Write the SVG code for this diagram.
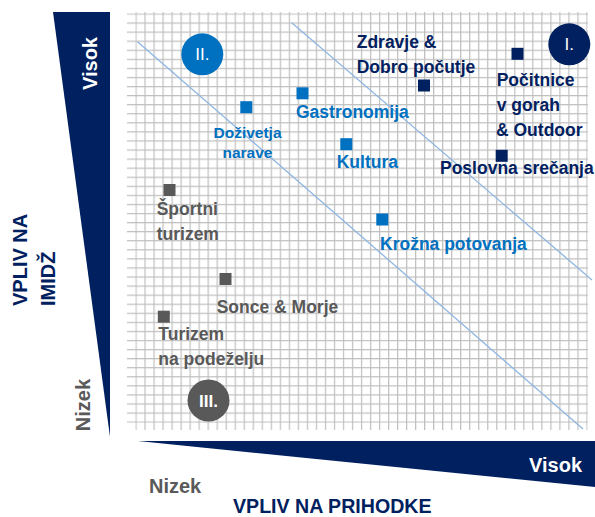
<svg xmlns="http://www.w3.org/2000/svg" width="595" height="517" viewBox="0 0 595 517">
<defs>
<style>
text{font-family:"Liberation Sans",Arial,sans-serif;font-weight:bold}
.ax{font-size:20px}
.lb{font-size:17.5px}
.nv{fill:#002060}
.bl{fill:#0070c0}
.gr{fill:#595959}
.wt{fill:#ffffff}
.ct{font-size:17px;font-weight:normal;text-anchor:middle}
.sep{stroke:#8fb6e3;stroke-width:1.3;fill:none}
</style>
<pattern id="vg" patternUnits="userSpaceOnUse" x="135.4" y="12" width="9.02" height="600">
<rect x="0" y="0" width="1.2" height="600" fill="#bfbfbf"/>
</pattern>
<pattern id="hg" patternUnits="userSpaceOnUse" x="127" y="13.4" width="600" height="9.07">
<rect x="0" y="0" width="600" height="1.2" fill="#bfbfbf"/>
</pattern>
</defs>
<rect width="595" height="517" fill="#ffffff"/>
<g id="grid">
<rect x="135.4" y="12" width="452.2" height="418" fill="url(#vg)"/>
<rect x="127" y="13.4" width="461" height="409.4" fill="url(#hg)"/>
</g>
<g id="axes">
<polygon points="53,12 110,12 110,437" fill="#002060"/>
<polygon points="138,441 595,441 595,487" fill="#002060"/>
<text class="ax wt" text-anchor="middle" transform="translate(97,63.5) rotate(-90)">Visok</text>
<text class="ax gr" text-anchor="middle" transform="translate(90,405) rotate(-90)">Nizek</text>
<text class="ax nv" transform="translate(27,306) rotate(-90)">VPLIV NA</text>
<text class="ax nv" transform="translate(55,306) rotate(-90)">IMIDŽ</text>
<text class="ax wt" x="529" y="471.7">Visok</text>
<text class="ax gr" x="149" y="493">Nizek</text>
<text class="nv" x="233" y="512.5" style="font-size:19.6px">VPLIV NA PRIHODKE</text>
</g>
<g id="connectors">
<line class="sep" x1="137.5" y1="41.7" x2="583" y2="429"/>
<line class="sep" x1="291.7" y1="22.7" x2="592" y2="280"/>
</g>
<g id="q1">
<circle cx="569.3" cy="44.3" r="21" fill="#002060"/>
<text class="ct wt" x="569.3" y="50.3">I.</text>
</g>
<g id="q2">
<circle cx="202.3" cy="54.3" r="21" fill="#0070c0"/>
<text class="ct wt" x="202.3" y="60.3">II.</text>
</g>
<g id="q3">
<circle cx="208.5" cy="400.5" r="21" fill="#595959"/>
<text class="ct wt" x="208.5" y="406.5" style="font-weight:bold">III.</text>
</g>
<g id="zdravje">
<rect x="418" y="79.5" width="12" height="12" fill="#002060"/>
<text class="lb nv" x="356.7" y="48.3">Zdravje &amp;</text>
<text class="lb nv" x="356.7" y="72.7">Dobro počutje</text>
</g>
<g id="pocitnice">
<rect x="511.5" y="47.8" width="12" height="12" fill="#002060"/>
<text class="lb nv" x="496.7" y="85.7">Počitnice</text>
<text class="lb nv" x="496.7" y="110.7">v gorah</text>
<text class="lb nv" x="496" y="136">&amp; Outdoor</text>
</g>
<g id="poslovna">
<rect x="495.7" y="149.8" width="12" height="12" fill="#002060"/>
<text class="lb nv" x="440" y="174">Poslovna srečanja</text>
</g>
<g id="gastronomija">
<rect x="296.5" y="87.3" width="12" height="12" fill="#0070c0"/>
<text class="lb bl" x="296" y="118">Gastronomija</text>
</g>
<g id="dozivetja">
<rect x="240.3" y="101.2" width="12" height="12" fill="#0070c0"/>
<text class="bl" x="247.5" y="137.7" text-anchor="middle" style="font-size:15.5px">Doživetja</text>
<text class="bl" x="247.5" y="158.3" text-anchor="middle" style="font-size:15.5px">narave</text>
</g>
<g id="kultura">
<rect x="340.3" y="138.2" width="12" height="12" fill="#0070c0"/>
<text class="lb bl" x="336.7" y="168.3">Kultura</text>
</g>
<g id="krozna">
<rect x="376.3" y="213.5" width="12" height="12" fill="#0070c0"/>
<text class="lb bl" x="380" y="250">Krožna potovanja</text>
</g>
<g id="sportni">
<rect x="163.5" y="184" width="12" height="12" fill="#595959"/>
<text class="lb gr" x="156.7" y="215">Športni</text>
<text class="lb gr" x="156.7" y="240">turizem</text>
</g>
<g id="sonce">
<rect x="219.5" y="273" width="12" height="12" fill="#595959"/>
<text class="lb gr" x="216.7" y="313.3">Sonce &amp; Morje</text>
</g>
<g id="podezelje">
<rect x="157.8" y="310.7" width="12" height="12" fill="#595959"/>
<text class="lb gr" x="158.3" y="340">Turizem</text>
<text class="lb gr" x="158.3" y="365">na podeželju</text>
</g>
</svg>
